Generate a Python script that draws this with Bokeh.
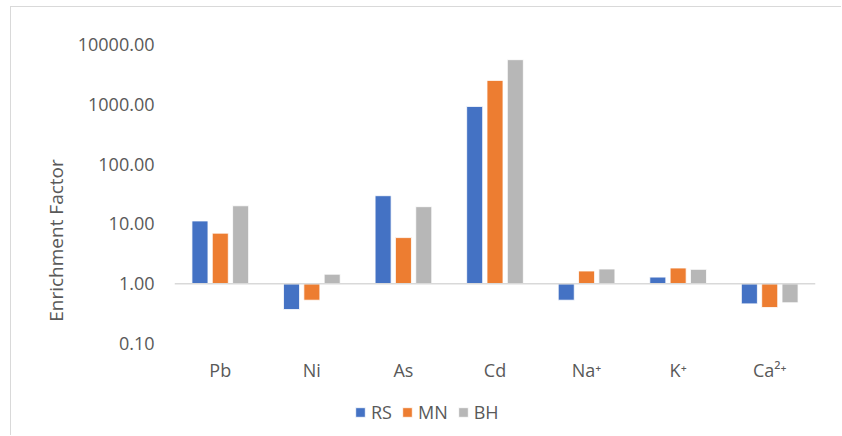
import math
from bokeh.plotting import figure
from bokeh.models import (FactorRange, FixedTicker, PrintfTickFormatter, Span,
                          Legend, LegendItem, ColumnDataSource)
from bokeh.core.properties import value
from bokeh.transform import dodge
from bokeh.embed import file_html
from bokeh.resources import INLINE

# Enrichment factors per element and site
elements = ["Pb", "Ni", "As", "Cd", "Na\u207a", "K\u207a", "Ca\u00b2\u207a"]
rs = [11.2, 0.37, 29.6, 920.0, 0.53, 1.29, 0.46]
mn = [7.0, 0.53, 5.9, 2510.0, 1.63, 1.83, 0.40]
bh = [20.1, 1.44, 19.4, 5570.0, 1.76, 1.74, 0.48]
series = ["RS", "MN", "BH"]
colors = ["#4472C4", "#ED7D31", "#B7B7B7"]
y_ticks = [0.1, 1, 10, 100, 1000, 10000]

FONT = "Open Sans"
TXT = "#595959"

# plot area: 5 decades over 299 px; the area continues below 0.1 to hold
# the category names and the legend
PX_PER_DEC = 299 / 5
y_low = 0.1 * 10 ** (-93 / PX_PER_DEC)
label_y = 0.1 * 10 ** (-26 / PX_PER_DEC)

src = ColumnDataSource(dict(el=elements, RS=rs, MN=mn, BH=bh, base=[1.0] * len(elements)))

# chart sits inside a light frame starting near (10, 6)
p = figure(width=831, height=429, output_backend="svg", toolbar_location=None,
           x_range=FactorRange(*elements), y_axis_type="log", y_range=(y_low, 10000),
           min_border_left=163, min_border_right=27, min_border_top=37, min_border_bottom=0)
p.margin = (6, 0, 0, 10)
p.styles = {"border-top": "1.5px solid #D9D9D9", "border-left": "1.5px solid #D9D9D9"}
p.outline_line_color = None
p.background_fill_color = "white"
p.border_fill_color = "white"
p.xgrid.grid_line_color = None
p.ygrid.grid_line_color = None
p.xaxis.visible = False

# baseline at 1.0 from which the bars rise or drop
p.add_layout(Span(location=1.0, dimension="width", line_color="#D9D9D9", line_width=1.5))

offsets = [-0.222, 0.0, 0.222]
renderers = []
for name, col, off in zip(series, colors, offsets):
    r = p.vbar(x=dodge("el", off, range=p.x_range), bottom="base", top=name, width=0.175,
               source=src, fill_color=col, line_color="white", line_width=0.8)
    renderers.append(r)

# category names under the bars
p.text(x="el", y=label_y, text="el", source=src, text_align="center",
       text_baseline="middle", text_font=value(FONT), text_font_size="18px",
       text_color=TXT)

# value axis
yax = p.yaxis[0]
yax.ticker = FixedTicker(ticks=y_ticks, minor_ticks=[])
yax.formatter = PrintfTickFormatter(format="%.2f")
yax.axis_label = "Enrichment Factor"
yax.axis_line_color = None
yax.major_tick_line_color = None
yax.minor_tick_line_color = None
yax.major_label_text_font = FONT
yax.major_label_text_font_size = "18px"
yax.major_label_text_color = TXT
yax.major_label_standoff = 14
yax.axis_label_text_font = FONT
yax.axis_label_text_font_size = "19px"
yax.axis_label_text_font_style = "normal"
yax.axis_label_text_color = TXT
yax.axis_label_standoff = 6

legend = Legend(items=[LegendItem(label=s, renderers=[r]) for s, r in zip(series, renderers)],
                orientation="horizontal", location=(180, 12), padding=0, margin=0,
                spacing=9, label_standoff=5, glyph_width=12, glyph_height=12,
                label_text_font=FONT, label_text_font_size="18px", label_text_color=TXT,
                border_line_color=None, background_fill_alpha=0)
p.add_layout(legend, "center")

open("out.html", "w").write(file_html(p, INLINE))
